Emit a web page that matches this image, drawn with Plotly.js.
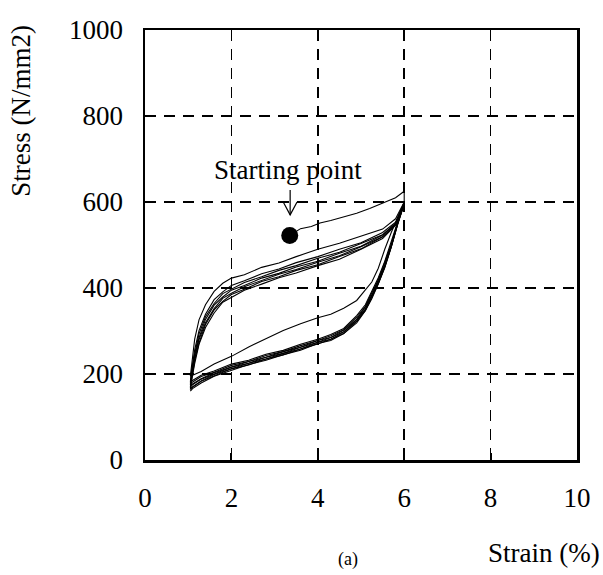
<!DOCTYPE html>
<html>
<head>
<meta charset="utf-8">
<script src="https://cdn.plot.ly/plotly-3.0.1.min.js"></script>
<style>html,body{margin:0;padding:0;background:#fff;}#chart{width:603px;height:575px;}</style>
</head>
<body>
<div id="chart"></div>
<script>
// Starting point and first (virgin) loading
const startPoint = {strain: 3.35, stress: 522};
const initialStrain = [3.35, 3.6, 3.85, 4.05, 4.3, 4.6, 4.9, 5.2, 5.5, 5.8, 6.0, 6.0];
const initialStress = [522, 538, 543, 551, 557, 566, 574, 585, 597, 610, 625, 598];

// Loading branches (strain grid shared by all loading curves)
const loadStrain = [1.05, 1.08, 1.15, 1.25, 1.4, 1.6, 1.8, 2.0, 2.3, 2.7, 3.1, 3.5, 4.0, 4.5, 5.0, 5.5, 5.8, 6.0];
const load2 = [195, 226, 281, 326, 361, 392, 411, 423, 431, 448, 458, 473, 490, 504, 521, 537, 561, 600];
const load3 = [182, 209, 256, 301, 339, 373, 391, 406, 417, 433, 444, 459, 473, 490, 505, 529, 553, 598];
const load4 = [178, 205, 247, 293, 333, 364, 387, 398, 413, 426, 441, 452, 469, 483, 503, 524, 551, 597];
const load5 = [174, 199, 243, 284, 327, 360, 379, 395, 406, 423, 434, 449, 462, 481, 497, 523, 549, 597];
const load6 = [170, 195, 235, 280, 319, 352, 376, 388, 403, 417, 432, 443, 460, 475, 496, 519, 548, 596];
const load7 = [167, 190, 231, 272, 315, 349, 369, 385, 397, 415, 426, 441, 454, 473, 491, 519, 547, 596];
const load8 = [164, 186, 224, 269, 308, 342, 367, 379, 395, 409, 424, 435, 452, 467, 490, 515, 546, 595];

// Unloading branches (strain grid shared by all unloading curves)
const unloadStrain = [6.0, 5.85, 5.7, 5.55, 5.4, 5.25, 5.1, 4.9, 4.6, 4.3, 4.0, 3.6, 3.2, 2.8, 2.4, 2.0, 1.6, 1.3, 1.1, 1.05];
const unload1 = [598, 565, 529, 490, 446, 414, 396, 371, 353, 339, 331, 317, 301, 282, 263, 241, 223, 206, 197, 195];
const unload2 = [600, 555, 506, 462, 424, 393, 361, 336, 306, 292, 281, 269, 255, 246, 232, 223, 207, 197, 186, 182];
const unload3 = [599, 553, 501, 459, 419, 389, 357, 332, 303, 289, 278, 266, 252, 243, 229, 220, 204, 194, 182, 178];
const unload4 = [598, 552, 500, 454, 418, 384, 356, 327, 302, 285, 278, 262, 252, 239, 229, 216, 203, 189, 178, 174];
const unload5 = [597, 551, 497, 452, 413, 383, 351, 327, 298, 285, 274, 262, 248, 239, 225, 216, 199, 188, 175, 170];
const unload6 = [597, 550, 497, 449, 412, 379, 350, 323, 298, 281, 274, 258, 248, 235, 225, 212, 199, 184, 172, 167];
const unload7 = [596, 549, 495, 449, 409, 379, 347, 323, 294, 281, 270, 258, 244, 235, 221, 212, 195, 183, 169, 164];
const unload8 = [595, 548, 495, 447, 410, 375, 347, 319, 294, 278, 271, 255, 245, 232, 222, 208, 195, 179, 166, 160];

const xTicks = [0, 2, 4, 6, 8, 10];
const yTicks = [0, 200, 400, 600, 800, 1000];

const FONT = 'Liberation Serif, Times New Roman, serif';
const FS = 27;
const lineStyle = {color: '#000', width: 1.1};

const loads = [load2, load3, load4, load5, load6, load7, load8];
const unloads = [unload1, unload2, unload3, unload4, unload5, unload6, unload7, unload8];

const traces = [];
traces.push({x: initialStrain, y: initialStress, mode: 'lines', line: lineStyle, hoverinfo: 'skip'});
unloads.forEach(u => traces.push({x: unloadStrain, y: u, mode: 'lines', line: lineStyle, hoverinfo: 'skip'}));
loads.forEach(l => traces.push({x: loadStrain, y: l, mode: 'lines', line: lineStyle, hoverinfo: 'skip'}));
traces.push({x: [startPoint.strain], y: [startPoint.stress], mode: 'markers',
  marker: {color: '#000', size: 17}, hoverinfo: 'skip'});

const axisCommon = {
  showgrid: true, gridcolor: '#000', gridwidth: 1.5, griddash: '11px,8px',
  showline: true, linecolor: '#000', linewidth: 2.5, mirror: true,
  ticks: 'inside', ticklen: 7, tickwidth: 2, tickcolor: '#000',
  tickfont: {family: FONT, size: FS, color: '#000'},
  zeroline: false, fixedrange: true
};

const layout = {
  width: 603, height: 575,
  margin: {l: 145, r: 26, t: 30, b: 115},
  paper_bgcolor: '#fff', plot_bgcolor: '#fff',
  showlegend: false,
  xaxis: Object.assign({}, axisCommon, {range: [0, 10], tickvals: xTicks, ticktext: xTicks.map(String), ticklabelstandoff: 12}),
  yaxis: Object.assign({}, axisCommon, {range: [0, 1000], tickvals: yTicks, ticktext: yTicks.map(String), ticklabelstandoff: 14}),
  shapes: [
    {type: 'line', xref: 'x', yref: 'y', x0: 3.36, x1: 3.36, y0: 628, y1: 570, line: {color: '#000', width: 1.2}},
    {type: 'path', xref: 'x', yref: 'y', path: 'M 3.2,600 L 3.36,570 L 3.52,600', line: {color: '#000', width: 1.2}}
  ],
  annotations: [
    {text: 'Starting point', xref: 'x', yref: 'y', x: 3.32, y: 674, showarrow: false,
      font: {family: FONT, size: FS, color: '#000'}, xanchor: 'center', yanchor: 'middle'},
    {text: 'Stress (N/mm2)', xref: 'paper', yref: 'paper', x: -0.287, y: 0.812, textangle: -90, showarrow: false,
      font: {family: FONT, size: FS, color: '#000'}, xanchor: 'center', yanchor: 'middle'},
    {text: 'Strain (%)', xref: 'paper', yref: 'paper', x: 0.923, y: -0.216, showarrow: false,
      font: {family: FONT, size: FS, color: '#000'}, xanchor: 'center', yanchor: 'middle'},
    {text: '(a)', xref: 'paper', yref: 'paper', x: 0.47, y: -0.232, showarrow: false,
      font: {family: FONT, size: 18, color: '#000'}, xanchor: 'center', yanchor: 'middle'}
  ]
};

Plotly.newPlot('chart', traces, layout, {displayModeBar: false, staticPlot: true});
</script>
</body>
</html>
